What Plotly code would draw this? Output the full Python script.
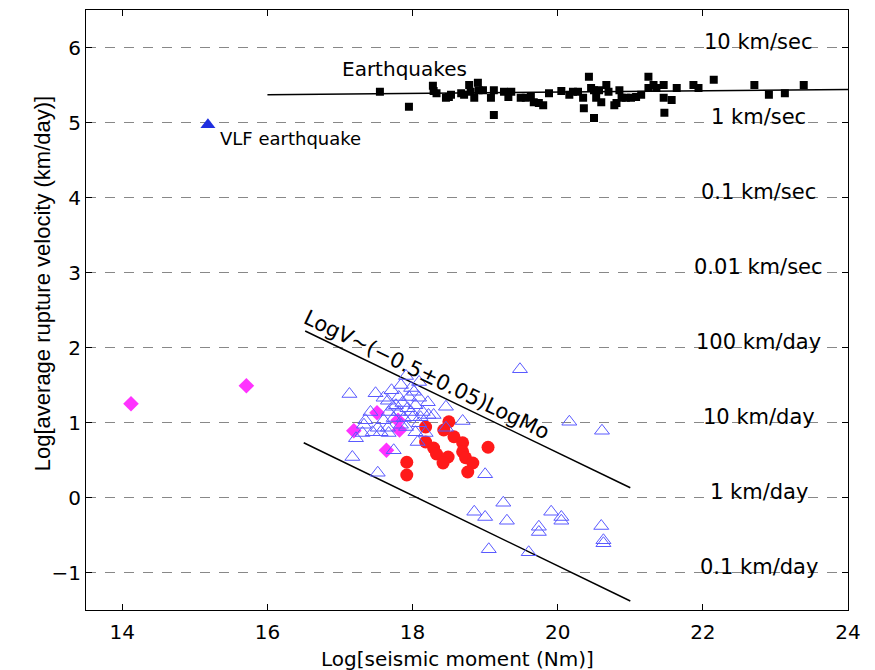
import plotly.graph_objects as go

# ---- data ----
eq_x = [17.55, 17.95, 18.28, 18.29, 18.33, 18.46, 18.50, 18.53, 18.67, 18.71, 18.78, 18.80, 18.85, 18.90,
        18.91, 18.97, 19.08, 19.12, 19.12, 19.26, 19.32, 19.36, 19.49, 19.56, 19.63, 19.67, 19.74, 19.80,
        19.88, 20.05, 20.16, 20.21, 20.28, 20.35, 20.36, 20.43, 20.46, 20.50, 20.50, 20.53, 20.57, 20.60,
        20.67, 20.70, 20.78, 20.81, 20.85, 20.88, 20.94, 21.01, 21.08, 21.15, 21.25, 21.25, 21.32, 21.36,
        21.46, 21.46, 21.47, 21.57, 21.64, 21.87, 21.94, 22.15, 22.71, 22.91, 23.13, 23.39]
eq_y = [5.41, 5.21, 5.49, 5.42, 5.39, 5.33, 5.34, 5.37, 5.39, 5.37, 5.50, 5.41, 5.33, 5.53,
        5.43, 5.43, 5.33, 5.43, 5.10, 5.41, 5.34, 5.41, 5.33, 5.33, 5.34, 5.27, 5.26, 5.23,
        5.39, 5.42, 5.37, 5.41, 5.41, 5.33, 5.19, 5.61, 5.46, 5.43, 5.06, 5.33, 5.43, 5.27,
        5.50, 5.41, 5.23, 5.26, 5.43, 5.33, 5.33, 5.33, 5.34, 5.37, 5.61, 5.46, 5.50, 5.46,
        5.50, 5.33, 5.13, 5.30, 5.46, 5.50, 5.46, 5.57, 5.50, 5.37, 5.39, 5.50]

tri_x = [17.13, 17.49, 17.71, 17.91, 18.09, 17.60, 17.66, 17.81, 17.95, 17.86, 17.73, 17.67, 17.81, 17.93,
         18.04, 18.09, 18.14, 18.00, 17.88, 17.74, 17.60, 17.35, 17.33, 17.45, 17.56, 17.52, 17.66, 17.67,
         17.31, 18.09, 18.04, 17.91, 18.07, 17.17, 17.74, 17.52, 18.21, 18.46, 18.29, 18.69, 18.46, 18.11,
         18.22, 18.18, 19.48, 20.16, 20.61, 19.00, 18.85, 19.00, 19.25, 19.30, 19.05, 19.60, 19.74, 19.74,
         19.91, 20.05, 20.05, 20.60, 20.63, 20.63, 17.98, 17.84, 17.77, 17.98, 17.84, 17.42, 17.22, 18.02]
tri_y = [1.38, 1.39, 1.43, 1.62, 1.54, 1.33, 1.29, 1.34, 1.34, 1.26, 1.21, 1.14, 1.14, 1.19,
         1.23, 1.33, 1.14, 1.07, 1.06, 1.06, 1.03, 1.03, 0.97, 0.87, 0.87, 0.93, 0.93, 0.86,
         0.86, 0.99, 0.87, 0.94, 0.74, 0.54, 0.63, 0.33, 1.27, 1.21, 1.10, 1.02, 0.93, 1.07,
         1.10, 0.86, 1.71, 1.01, 0.89, 0.31, -0.19, -0.26, -0.07, -0.31, -0.69, -0.73, -0.39, -0.46,
         -0.19, -0.26, -0.31, -0.38, -0.57, -0.61, 1.46, 1.50, 1.23, 1.14, 0.97, 1.14, 0.79, 1.41]

red_x = [18.18, 18.50, 18.43, 18.57, 18.69, 18.69, 18.73, 19.04, 18.18, 18.29, 18.33, 18.49, 18.42,
         18.83, 18.76, 17.92, 17.92]
red_y = [0.94, 1.01, 0.90, 0.81, 0.73, 0.61, 0.53, 0.67, 0.74, 0.66, 0.58, 0.54, 0.46,
         0.46, 0.34, 0.47, 0.30]

dia_x = [14.12, 15.71, 17.51, 17.19, 17.80, 17.82, 17.64]
dia_y = [1.25, 1.49, 1.13, 0.89, 1.03, 0.90, 0.63]

vlf_x = [15.18]
vlf_y = [4.97]

eq_fit_x = [16.0, 24.0]
eq_fit_y = [5.37, 5.44]
upper_x = [16.52, 21.0]
upper_y = [2.22, 0.13]
lower_x = [16.5, 21.0]
lower_y = [0.73, -1.38]

level_y = [6, 5, 4, 3, 2, 1, 0, -1]
level_labels = ["10 km/sec", "1 km/sec", "0.1 km/sec", "0.01 km/sec",
                "100 km/day", "10 km/day", "1 km/day", "0.1 km/day"]

x_title = "Log[seismic moment (Nm)]"
y_title = "Log[average rupture velocity (km/day)]"

FONT = "DejaVu Sans, Liberation Sans, sans-serif"
FONT_Y = "Liberation Sans, Arial, sans-serif"

fig = go.Figure()
line_style = dict(color="black", width=1.5)
fig.add_trace(go.Scatter(x=eq_fit_x, y=eq_fit_y, mode="lines", line=line_style, hoverinfo="skip"))
fig.add_trace(go.Scatter(x=upper_x, y=upper_y, mode="lines", line=line_style, hoverinfo="skip"))
fig.add_trace(go.Scatter(x=lower_x, y=lower_y, mode="lines", line=line_style, hoverinfo="skip"))

fig.add_trace(go.Scatter(x=dia_x, y=dia_y, mode="markers",
                         marker=dict(symbol="diamond", size=12, color="#ff33ff", line=dict(width=0))))
fig.add_trace(go.Scatter(x=red_x, y=red_y, mode="markers",
                         marker=dict(symbol="circle", size=13, color="#ff1a1a", line=dict(width=0))))
fig.add_trace(go.Scatter(x=tri_x, y=tri_y, mode="markers",
                         marker=dict(symbol="triangle-up-open", size=13, color="#5a5aff",
                                     line=dict(width=1, color="#5a5aff"))))
fig.add_trace(go.Scatter(x=eq_x, y=eq_y, mode="markers",
                         marker=dict(symbol="square", size=8, color="black", line=dict(width=0))))
fig.add_trace(go.Scatter(x=vlf_x, y=vlf_y, mode="markers",
                         marker=dict(symbol="triangle-up", size=13, color="#1f2fe0", line=dict(width=0))))

annotations = []
for yv, lab in zip(level_y, level_labels):
    annotations.append(dict(x=22.77, y=yv + 0.08, text=lab, showarrow=False, xanchor="center",
                            yanchor="middle", font=dict(size=21, color="black", family=FONT)))
annotations.append(dict(x=17.89, y=5.71, text="Earthquakes", showarrow=False, xanchor="center",
                        yanchor="middle", font=dict(size=20, color="black", family=FONT)))
annotations.append(dict(x=15.32, y=4.79, text="VLF earthquake", showarrow=False, xanchor="left",
                        yanchor="middle", font=dict(size=18, color="black", family=FONT)))
annotations.append(dict(x=18.2, y=1.64, text="LogV~(\u22120.5\u00b10.05)LogMo", showarrow=False,
                        textangle=25.8, xanchor="center", yanchor="middle",
                        font=dict(size=21, color="black", family=FONT)))
# axis titles placed as paper-referenced annotations
annotations.append(dict(xref="paper", yref="paper", x=0.488, y=-0.0815, text=x_title, showarrow=False,
                        xanchor="center", yanchor="middle", font=dict(size=20, color="black", family=FONT)))
annotations.append(dict(xref="paper", yref="paper", x=-0.0577, y=0.543, text=y_title, showarrow=False,
                        textangle=-90, xanchor="center", yanchor="middle",
                        font=dict(size=22, color="black", family=FONT_Y)))

fig.update_layout(
    width=875, height=670,
    margin=dict(l=86, r=27, t=10, b=60),
    paper_bgcolor="white", plot_bgcolor="white",
    showlegend=False,
    annotations=annotations,
    font=dict(family=FONT, size=20, color="black"),
)
fig.update_xaxes(range=[13.5, 24], tickvals=[14, 16, 18, 20, 22, 24],
                 showgrid=False, zeroline=False, showline=True, linecolor="black", linewidth=1,
                 mirror="ticks", ticks="inside", ticklen=6, tickcolor="black",
                 ticklabelstandoff=4,
                 tickfont=dict(size=20, family=FONT))
fig.update_yaxes(range=[-1.5, 6.5], tickvals=[-1, 0, 1, 2, 3, 4, 5, 6],
                 ticktext=["\u22121", "0", "1", "2", "3", "4", "5", "6"],
                 showgrid=True, gridcolor="#888888", gridwidth=1.3, griddash="10px,9px",
                 zeroline=False, showline=True, linecolor="black", linewidth=1,
                 mirror="ticks", ticks="inside", ticklen=6, tickcolor="black",
                 tickfont=dict(size=20, family=FONT))

fig.write_html("out.html")
